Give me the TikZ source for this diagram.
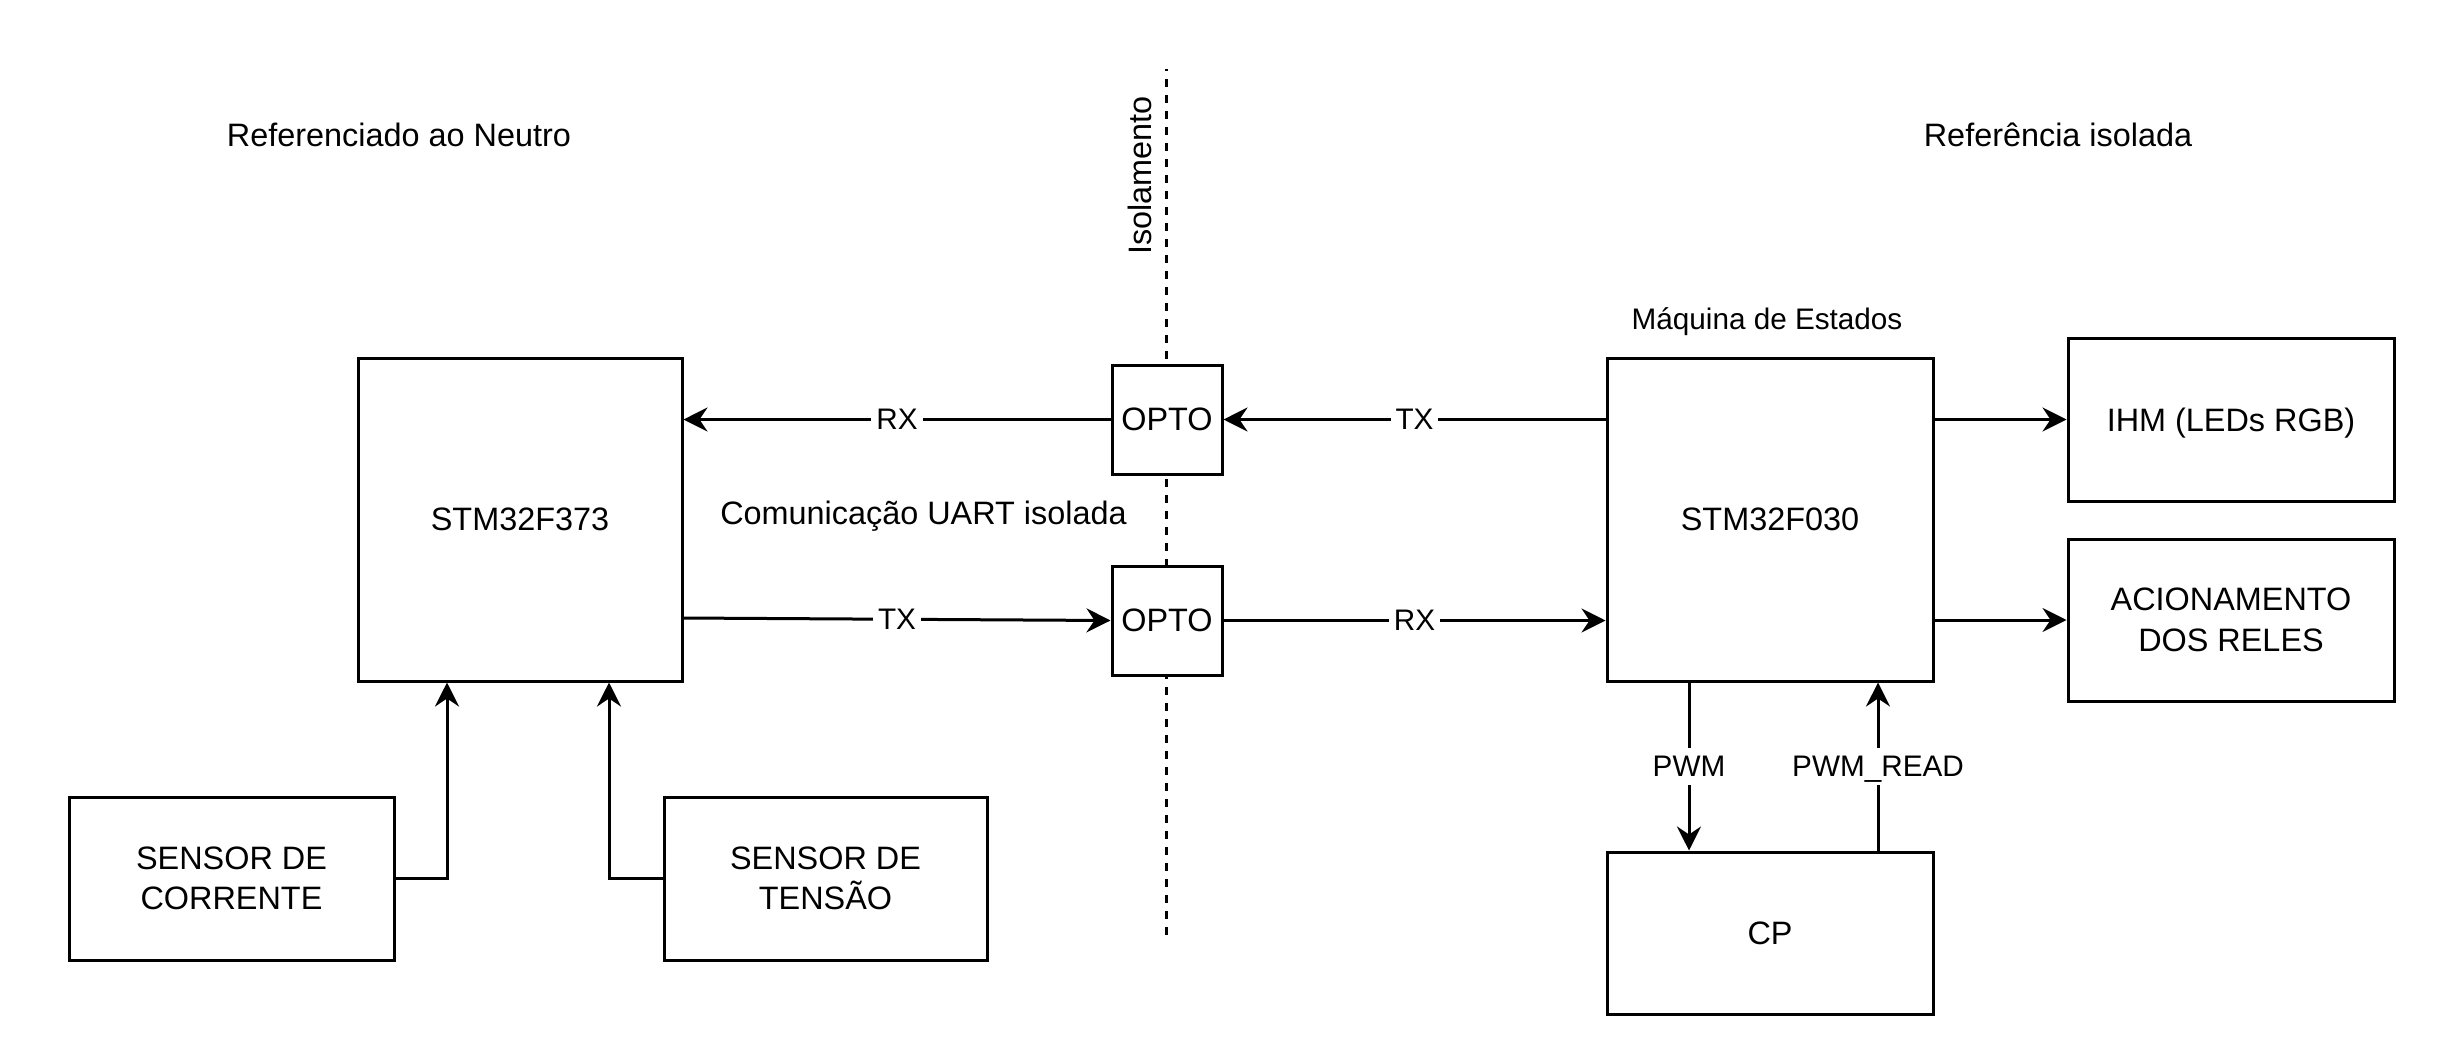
\documentclass[tikz,border=0pt]{standalone}
\usepackage{fontspec}
\setmainfont{Liberation Sans}
\usetikzlibrary{arrows.meta}
\newcommand{\boxfont}{\fontsize{32.4}{40.5}\selectfont}
\newcommand{\lblfont}{\fontsize{29.7}{36}\selectfont}
\tikzset{
  blk/.style={draw=black, line width=3pt, fill=white, inner sep=0pt, align=center, font=\boxfont},
  arr/.style={draw=black, line width=3pt, -{Stealth[length=24pt,width=24pt,inset=8pt]}},
  lbl/.style={fill=white, font=\lblfont, inner xsep=5pt, inner ysep=8pt},
  txt/.style={font=\boxfont, anchor=base, inner sep=0pt},
  isoline/.style={draw=black, line width=3pt, dash pattern=on 8pt off 8pt, dash phase=6pt}
}
\begin{document}
\begin{tikzpicture}[x=1pt,y=-1pt]
\useasboundingbox (0,0) rectangle (2462,1042);

% isolation line
\coordinate (isoTop) at (1166,69);
\coordinate (isoBot) at (1166,935);
\draw[isoline] (isoTop) -- (isoBot);

% free texts
\node[txt] (tNeutro) at (399,146) {Referenciado ao Neutro};
\node[txt] (tIsolada) at (2058,146) {Referência isolada};
\node[txt, font=\lblfont] (tMaquina) at (1767,329.7) {Máquina de Estados};
\node[txt] (tUart) at (923.5,524) {Comunicação UART isolada};
\node[txt, rotate=90] (tIso) at (1151.7,175.5) {Isolamento};

% blocks
\node[blk, minimum width=324pt, minimum height=323pt] (stmL) at (520,519.5) {STM32F373};
\node[blk, minimum width=326pt, minimum height=323pt] (stmR) at (1770,519.5) {STM32F030};
\node[blk, minimum width=110pt, minimum height=109pt] (opto1) at (1167,419.5) {OPTO};
\node[blk, minimum width=110pt, minimum height=109pt] (opto2) at (1167,620.5) {OPTO};
\node[blk, minimum width=325pt, minimum height=163pt] (senC) at (231.5,878.5) {SENSOR DE\\CORRENTE};
\node[blk, minimum width=323pt, minimum height=163pt] (senT) at (825.5,878.5) {SENSOR DE\\TENSÃO};
\node[blk, minimum width=326pt, minimum height=163pt, text depth=0pt] (ihm) at (2231,419.5) {IHM (LEDs RGB)};
\node[blk, minimum width=326pt, minimum height=162pt] (acio) at (2231,620) {ACIONAMENTO\\DOS RELES};
\node[blk, minimum width=326pt, minimum height=162pt] (cp) at (1770,933) {CP};

% UART connections
\draw[arr] (opto1.west) -- (opto1.west -| stmL.east) node[midway, lbl] {RX};
\draw[arr] (opto1.east -| stmR.west) -- (opto1.east) node[midway, lbl] {TX};
\draw[arr] ([yshift=-98.5pt]stmL.east) -- (opto2.west) node[midway, lbl] {TX};
\draw[arr] (opto2.east) -- (opto2.east -| stmR.west) node[midway, lbl] {RX};

% sensors
\draw[arr] (senC.east) -| ([xshift=-73pt]stmL.south);
\draw[arr] (senT.west) -| ([xshift=89pt]stmL.south);

% outputs
\draw[arr] (ihm.west -| stmR.east) -- (ihm.west);
\draw[arr] (acio.west -| stmR.east) -- (acio.west);

% CP
\draw[arr] ([xshift=-81pt]stmR.south) -- ([xshift=-81pt]cp.north) node[midway, lbl] {PWM};
\draw[arr] ([xshift=108pt]cp.north) -- ([xshift=108pt]stmR.south) node[midway, lbl, text depth=0pt] {PWM\_READ};
\end{tikzpicture}
\end{document}
